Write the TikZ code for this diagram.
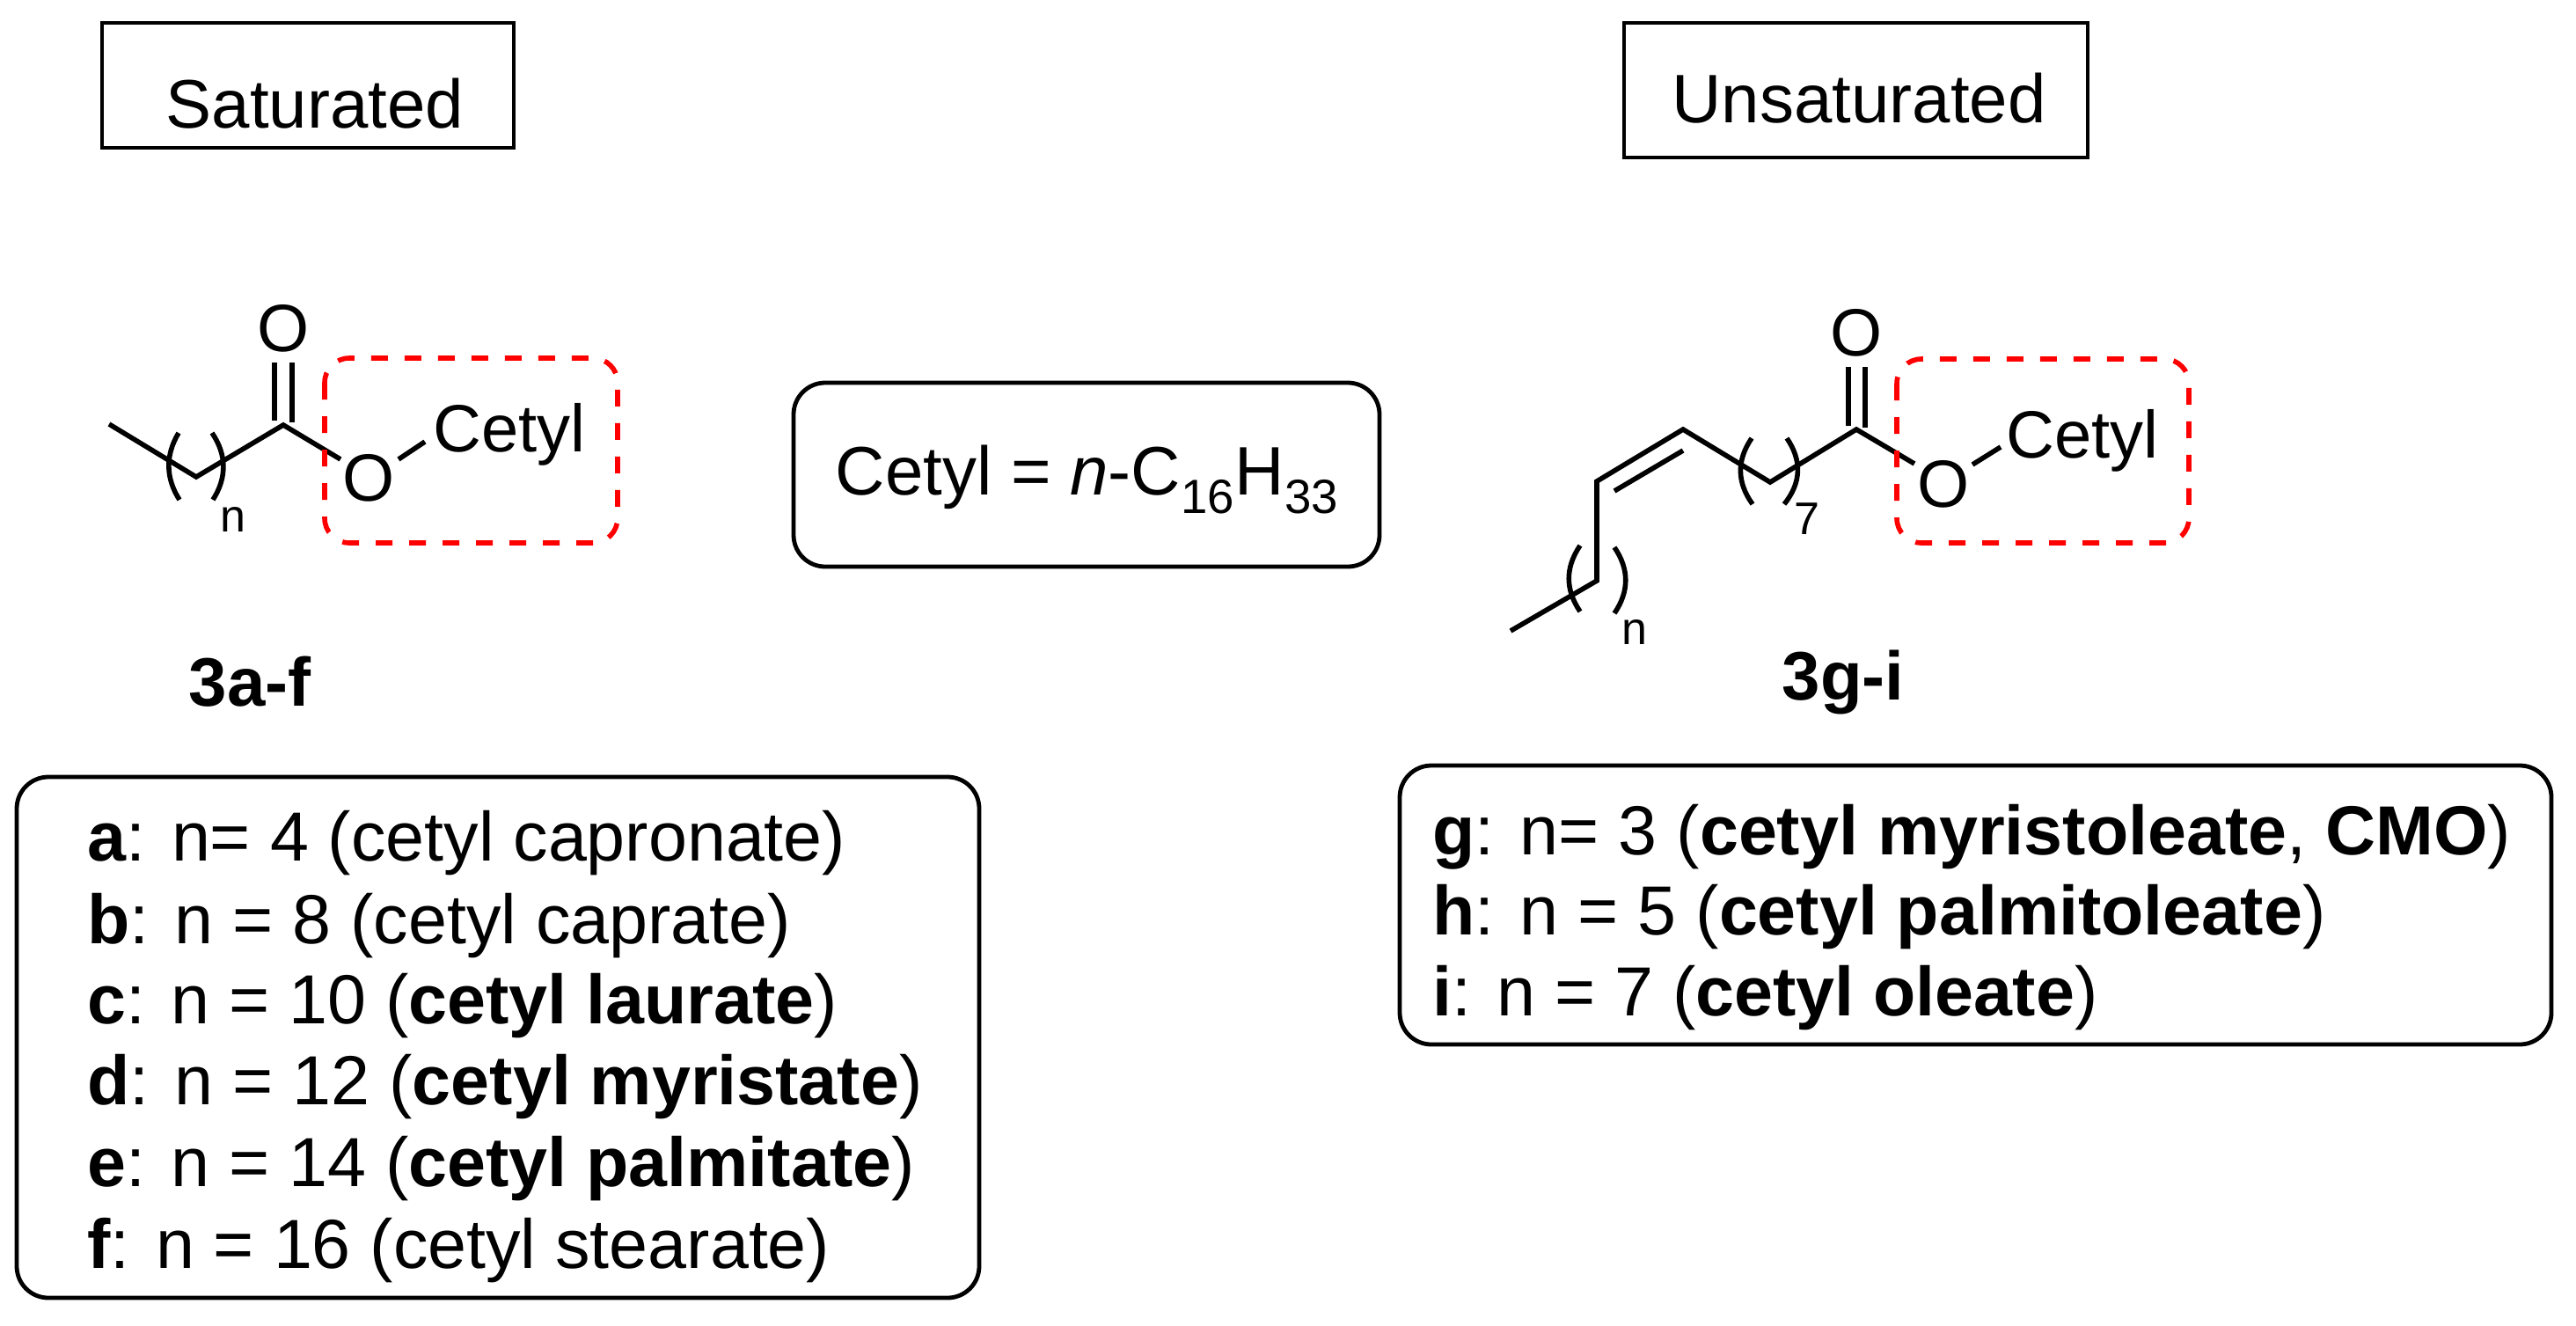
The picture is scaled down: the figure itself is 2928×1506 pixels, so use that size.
\documentclass[tikz,border=0pt]{standalone}
\usepackage{fontspec}
\setmainfont{Liberation Sans}
\begin{document}
\begin{tikzpicture}[x=0.5pt,y=-0.5pt,
  bond/.style={line width=2.8pt,line cap=butt},
  redbox/.style={draw=red,line width=2.8pt,dash pattern=on 9.5pt off 9.5pt,rounded corners=14pt},
  blkbox/.style={draw,line width=2.4pt},
  chem/.style={font=\fontsize{38}{44}\selectfont,inner sep=0pt},
  sub/.style={font=\fontsize{26}{30}\selectfont,inner sep=0pt},
  lbl/.style={font=\fontsize{39}{46}\selectfont,inner sep=0pt},
  lst/.style={font=\fontsize{39.5}{46}\selectfont,inner sep=0pt,anchor=base west}]
\useasboundingbox (0,0) rectangle (2928,1506);
% titles
\draw[blkbox] (116,26) rectangle (584,168);
\node[lbl] (sat) at (358,118) {Saturated};
\draw[blkbox] (1846,26) rectangle (2373,179);
\node[lbl] (unsat) at (2113,112) {Unsaturated};
% cetyl definition
\draw[blkbox,rounded corners=18pt] (902,435) rectangle (1568,644);
\node[lbl] (def) at (1236,545) {Cetyl = \textit{n}-C\textsubscript{16}H\textsubscript{33}};
% left structure
\coordinate (l1) at (124,482);
\coordinate (l2) at (223,542);
\coordinate (l3) at (322,483);
\coordinate (l4) at (387,522);
\draw[bond,line join=miter] (l1)--(l2)--(l3)--(l4);
\draw[bond] (312,412)--(312,478);
\draw[bond] (332,412)--(332,480);
\node[chem] (lO1) at (322,373) {O};
\node[chem] (lO2) at (419,543) {O};
\draw[bond] (453,522)--(483,502);
\node[chem,anchor=base west] (lcet) at (492,513) {Cetyl};
\draw[bond] (203,492) .. controls (188,517) and (188,543) .. (204,568);
\draw[bond] (241,492) .. controls (258,517) and (258,543) .. (242,568);
\node[sub] (ln) at (265,590) {n};
\draw[redbox] (369,407) rectangle (702,617);
\node[lbl,font=\fontsize{39}{46}\selectfont\bfseries] (c3af) at (284,775) {3a-f};
% right structure
\coordinate (r1) at (1717,717);
\coordinate (r2) at (1815,660);
\coordinate (r3) at (1815,547);
\coordinate (r4) at (1913,488);
\coordinate (r5) at (2012,548);
\coordinate (r6) at (2110,488);
\coordinate (r7) at (2176,527);
\draw[bond,line join=miter] (r1)--(r2)--(r3)--(r4)--(r5)--(r6)--(r7);
\draw[bond] (1835,558)--(1913,512);
\draw[bond] (2101,417)--(2101,484);
\draw[bond] (2120,417)--(2120,486);
\node[chem] (rO1) at (2110,378) {O};
\node[chem] (rO2) at (2209,550) {O};
\draw[bond] (2242,528)--(2274,508);
\node[chem,anchor=base west] (rcet) at (2280,520) {Cetyl};
\draw[bond] (1991,498) .. controls (1974,523) and (1974,548) .. (1992,573);
\draw[bond] (2031,498) .. controls (2048,523) and (2048,548) .. (2028,573);
\node[sub] (r7l) at (2054,590) {7};
\draw[bond] (1796,620) .. controls (1779,645) and (1779,670) .. (1796,695);
\draw[bond] (1835,622) .. controls (1852,647) and (1852,672) .. (1835,697);
\node[sub] (rn) at (1858,718) {n};
\draw[redbox] (2156,408) rectangle (2488,617);
\node[lbl,font=\fontsize{39}{46}\selectfont\bfseries] (c3gi) at (2095,775) {3g-i};
% lists
\draw[blkbox,rounded corners=18pt] (19,883) rectangle (1113,1475);
\node[lst] (la) at (99,978) {\textbf{a}: n= 4 (cetyl capronate)};
\node[lst] (lb) at (99,1072) {\textbf{b}: n = 8 (cetyl caprate)};
\node[lst] (lc) at (99,1163) {\textbf{c}: n = 10 (\textbf{cetyl laurate})};
\node[lst] (ld) at (99,1255) {\textbf{d}: n = 12 (\textbf{cetyl myristate})};
\node[lst] (le) at (99,1348) {\textbf{e}: n = 14 (\textbf{cetyl palmitate})};
\node[lst] (lf) at (99,1441) {\textbf{f}: n = 16 (cetyl stearate)};
\draw[blkbox,rounded corners=18pt] (1591,870) rectangle (2900,1187);
\node[lst] (rg) at (1628,971) {\textbf{g}: n= 3 (\textbf{cetyl myristoleate}, \textbf{CMO})};
\node[lst] (rh) at (1628,1062) {\textbf{h}: n = 5 (\textbf{cetyl palmitoleate})};
\node[lst] (ri) at (1628,1154) {\textbf{i}: n = 7 (\textbf{cetyl oleate})};
\end{tikzpicture}
\end{document}
